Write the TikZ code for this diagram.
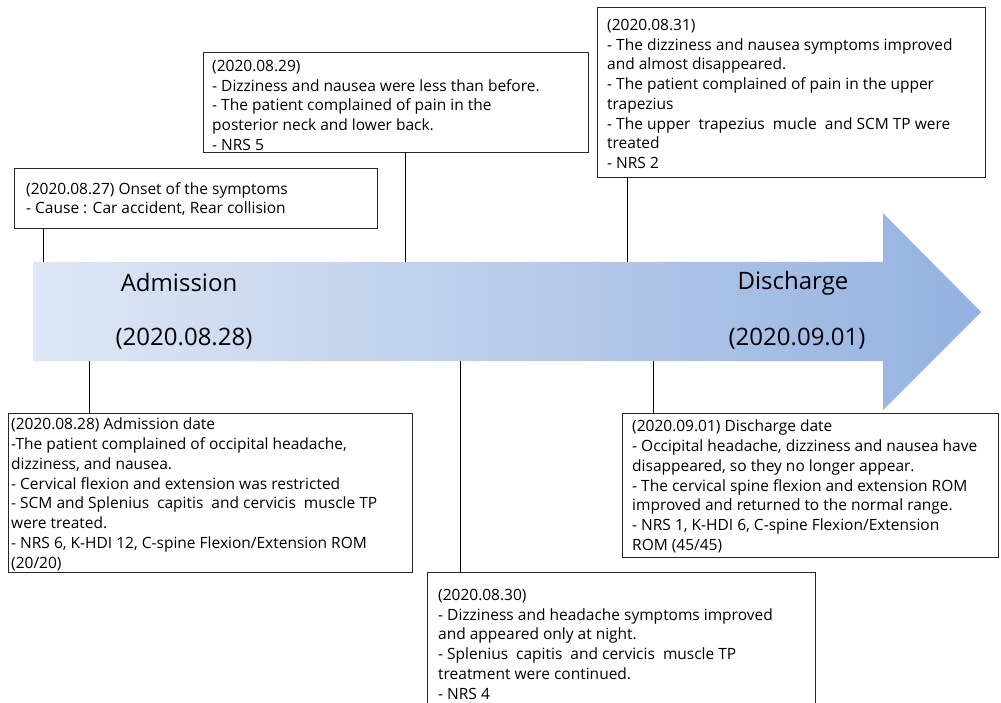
\documentclass[tikz,border=0pt]{standalone}
\usepackage{fontspec}
\setmainfont{Open Sans}
\begin{document}
\begin{tikzpicture}[x=1pt,y=-1pt,
  box/.style={draw=black!85,line width=1.2pt},
  txt/.style={anchor=north west,inner sep=0pt,align=left,
    font=\fontsize{15.5}{19.75}\selectfont},
  big/.style={font=\fontsize{24}{27}\selectfont},
  conn/.style={draw=black,line width=0.9pt}]
\useasboundingbox (0,0) rectangle (1001,703);
% arrow
\path[left color={rgb,255:red,222;green,231;blue,245},
  right color={rgb,255:red,148;green,178;blue,224}]
  (33,262) -- (883,262) -- (883,213) -- (981,312) -- (883,410) -- (883,361) -- (33,361) -- cycle;
\node[big] (adm) at (179,283) {Admission};
\node[big] (admd) at (184,339) {(2020.08.28)};
\node[big] (dis) at (793,283) {Discharge};
\node[big] (disd) at (797,339) {(2020.09.01)};
% boxes
\node[box,anchor=north west,minimum width=363pt,minimum height=60pt] (b27) at (14,168) {};
\node[txt] (t27) at (26,182) {(2020.08.27) Onset of the symptoms\\- Cause : Car accident, Rear collision};
\node[box,anchor=north west,minimum width=385pt,minimum height=100pt] (b29) at (203,52) {};
\node[txt] (t29) at (212,60) {(2020.08.29)\\- Dizziness and nausea were less than before.\\- The patient complained of pain in the\\posterior neck and lower back.\\- NRS 5};
\node[box,anchor=north west,minimum width=388pt,minimum height=170pt] (b31) at (597,7) {};
\node[txt] (t31) at (607,19) {(2020.08.31)\\- The dizziness and nausea symptoms improved\\and almost disappeared.\\- The patient complained of pain in the upper\\trapezius\\- The upper\ \ trapezius\ \ mucle\ \ and SCM TP were\\treated\\- NRS 2};
\node[box,anchor=north west,minimum width=404pt,minimum height=159pt] (b28) at (8,413) {};
\node[txt] (t28) at (11,418) {(2020.08.28) Admission date\\-The patient complained of occipital headache,\\dizziness, and nausea.\\- Cervical flexion and extension was restricted\\- SCM and Splenius\ \ capitis\ \ and cervicis\ \ muscle TP\\were treated.\\- NRS 6, K-HDI 12, C-spine Flexion/Extension ROM\\(20/20)};
\node[box,anchor=north west,minimum width=388pt,minimum height=140pt] (b30) at (427,572) {};
\node[txt] (t30) at (438,589) {(2020.08.30)\\- Dizziness and headache symptoms improved\\and appeared only at night.\\- Splenius\ \ capitis\ \ and cervicis\ \ muscle TP\\treatment were continued.\\- NRS 4};
\node[box,anchor=north west,minimum width=376pt,minimum height=144pt] (b01) at (622,413) {};
\node[txt] (t01) at (632,420) {(2020.09.01) Discharge date\\- Occipital headache, dizziness and nausea have\\disappeared, so they no longer appear.\\- The cervical spine flexion and extension ROM\\improved and returned to the normal range.\\- NRS 1, K-HDI 6, C-spine Flexion/Extension\\ROM (45/45)};
% connectors
\coordinate (c27) at (43,262);
\coordinate (c29) at (405,262);
\coordinate (c31) at (627,262);
\coordinate (c28) at (89,361);
\coordinate (c30) at (460,361);
\coordinate (c01) at (653,361);
\draw[conn] (c27) -- (c27 |- b27.south);
\draw[conn] (c29) -- (c29 |- b29.south);
\draw[conn] (c31) -- (c31 |- b31.south);
\draw[conn] (c28) -- (c28 |- b28.north);
\draw[conn] (c30) -- (c30 |- b30.north);
\draw[conn] (c01) -- (c01 |- b01.north);
\end{tikzpicture}
\end{document}
